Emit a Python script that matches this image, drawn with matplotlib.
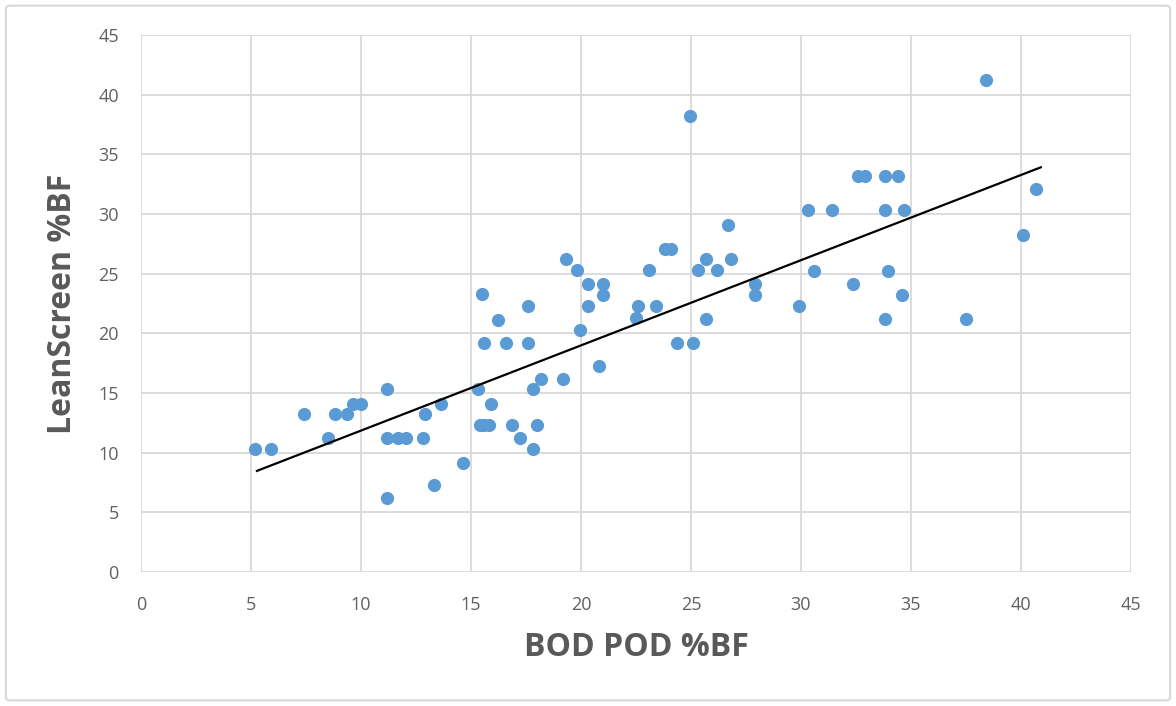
import numpy as np
import matplotlib.pyplot as plt
from matplotlib.patches import FancyBboxPatch

# BOD POD %BF vs LeanScreen %BF
bodpod = [5.2, 5.9, 7.4, 8.5, 8.8, 9.35, 9.65, 10.0, 11.2, 11.2, 11.7, 12.05, 12.8,
          12.9, 13.65, 11.2, 13.3, 14.65, 15.3, 15.4, 15.6, 15.8, 15.9, 16.85, 17.25,
          18.0, 17.8, 17.8, 18.2, 19.2, 15.5, 17.6, 16.25, 15.6, 16.6, 17.6, 19.95,
          20.3, 21.0, 21.0, 20.3, 20.8, 22.6, 23.4, 22.5, 24.35, 25.1, 25.7, 27.9,
          27.9, 19.3, 19.8, 23.1, 25.3, 26.2, 23.8, 24.1, 26.7, 25.7, 26.8, 24.95,
          30.3, 31.4, 30.6, 32.35, 29.9, 32.6, 32.9, 33.8, 34.4, 33.8, 34.7, 33.95,
          34.6, 33.8, 37.5, 38.4, 40.7, 40.1]
leanscreen = [10.3, 10.3, 13.2, 11.2, 13.2, 13.2, 14.1, 14.1, 15.3, 11.2, 11.2, 11.2, 11.2,
              13.2, 14.1, 6.2, 7.3, 9.1, 15.3, 12.3, 12.3, 12.3, 14.1, 12.3, 11.2,
              12.3, 10.3, 15.3, 16.2, 16.2, 23.3, 22.3, 21.1, 19.2, 19.2, 19.2, 20.3,
              24.1, 24.1, 23.2, 22.3, 17.3, 22.3, 22.3, 21.3, 19.2, 19.2, 21.2, 24.1,
              23.2, 26.2, 25.3, 25.3, 25.3, 25.3, 27.1, 27.1, 29.1, 26.2, 26.2, 38.2,
              30.3, 30.3, 25.2, 24.1, 22.3, 33.2, 33.2, 33.2, 33.2, 30.3, 30.3, 25.2,
              23.2, 21.2, 21.2, 41.2, 32.1, 28.2]

# linear trendline as drawn in the reference
trend_slope = 0.714
trend_intercept = 4.71
trend_range = [5.27, 40.9]

ticks = [0, 5, 10, 15, 20, 25, 30, 35, 40, 45]

fig = plt.figure(figsize=(11.76, 7.06), dpi=100)
ax = fig.add_axes([0.1199, 0.1898, 0.8418, 0.7606])

# outer frame like the Excel chart area
fig.patches.append(FancyBboxPatch((0.005, 0.008), 0.99, 0.984, boxstyle="round,pad=0,rounding_size=0.004",
                                  transform=fig.transFigure, fill=False, edgecolor='#d9d9d9', linewidth=1.5))

ax.scatter(bodpod, leanscreen, s=90, color='#5B9BD5', zorder=3, linewidths=0)

xl = np.array(trend_range)
ax.plot(xl, trend_slope * xl + trend_intercept, color='black', linewidth=1.6, zorder=4)

ax.set_xlim(0, 45)
ax.set_ylim(0, 45)
ax.set_xticks(ticks)
ax.set_yticks(ticks)
ax.grid(True, color='#d9d9d9', linewidth=1.3)
ax.set_axisbelow(True)
for s in ax.spines.values():
    s.set_visible(False)
ax.tick_params(length=0, labelsize=13, labelcolor='#606060')
ax.tick_params(axis='x', pad=17)
ax.tick_params(axis='y', pad=16)
for lab in ax.get_xticklabels() + ax.get_yticklabels():
    lab.set_fontfamily('Open Sans')

ax.set_xlabel('BOD POD %BF', fontsize=23, fontweight='bold', color='#595959',
              fontfamily='Open Sans', va='center')
ax.set_ylabel('LeanScreen %BF', fontsize=23, fontweight='bold', color='#595959',
              fontfamily='Open Sans', va='center')
ax.xaxis.set_label_coords(0.5, -0.1415)
ax.yaxis.set_label_coords(-0.0798, 0.5)

plt.savefig('out.png', dpi=100)
